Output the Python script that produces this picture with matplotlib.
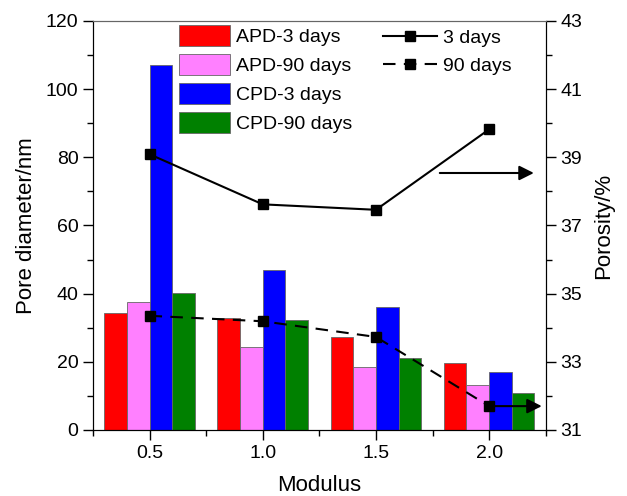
import numpy as np
import matplotlib
matplotlib.use("Agg")
import matplotlib.pyplot as plt
from matplotlib.ticker import MultipleLocator, FixedLocator

plt.rcParams['font.family'] = ['Liberation Sans', 'DejaVu Sans']

# datos
modulus = [0.5, 1.0, 1.5, 2.0]
apd_3 = [34.2, 33.0, 27.3, 19.6]
apd_90 = [37.6, 24.3, 18.4, 13.2]
cpd_3 = [107.0, 46.9, 36.2, 16.9]
cpd_90 = [40.1, 32.4, 21.0, 10.9]
por_3 = [39.09, 37.62, 37.46, 39.82]
por_90 = [34.35, 34.19, 33.73, 31.70]

fig = plt.figure(figsize=(6.27, 4.96), dpi=100)
ax = fig.add_axes([0.1483, 0.1331, 0.722, 0.8246])
ax2 = ax.twinx()

x = np.array(modulus)
w = 0.1
series = [(apd_3, '#ff0000', 'APD-3 days'), (apd_90, '#ff80ff', 'APD-90 days'),
          (cpd_3, '#0000ff', 'CPD-3 days'), (cpd_90, '#008000', 'CPD-90 days')]
barras = []
for i, (vals, col, lab) in enumerate(series):
    b = ax.bar(x + (i - 1.5) * w, vals, w, color=col, edgecolor='#666666',
               linewidth=0.6, label=lab)
    barras.append(b)

l1, = ax2.plot(x, por_3, '-s', color='black', lw=1.5, ms=6.5, label='3 days')
l2, = ax2.plot(x, por_90, '--s', color='black', lw=1.5, ms=6.5, dashes=(6, 4), label='90 days')

# flechas
ax2.annotate('', xy=(2.21, 38.54), xytext=(1.77, 38.54),
             arrowprops=dict(arrowstyle='-|>', mutation_scale=22, color='black', lw=1.5))
ax2.annotate('', xy=(2.245, 31.7), xytext=(2.0, 31.7),
             arrowprops=dict(arrowstyle='-|>', mutation_scale=22, color='black', lw=1.5))

ax.set_xlim(0.25, 2.25)
ax.set_ylim(0, 120)
ax2.set_ylim(31, 43)
ax.set_xticks(modulus)
ax.set_xticklabels(['0.5', '1.0', '1.5', '2.0'])
ax.xaxis.set_minor_locator(MultipleLocator(0.25))
ax.yaxis.set_major_locator(MultipleLocator(20))
ax.yaxis.set_minor_locator(MultipleLocator(10))
ax2.yaxis.set_major_locator(FixedLocator(range(31, 44, 2)))
ax2.yaxis.set_minor_locator(FixedLocator(range(32, 43, 2)))

for a in (ax, ax2):
    a.tick_params(which='major', direction='out', length=7, width=1, labelsize=14)
    a.tick_params(which='minor', direction='out', length=4, width=1)
    a.spines['top'].set_color('#666666')
ax.tick_params(axis='x', which='both', top=False)

ax.set_xlabel('Modulus', fontsize=16, labelpad=10)
ax.set_ylabel('Pore diameter/nm', fontsize=16, labelpad=6)
ax2.set_ylabel('Porosity/%', fontsize=16, labelpad=8)

ax.legend(handles=barras, loc='upper left', bbox_to_anchor=(0.19, 0.99),
          frameon=False, fontsize=14, handlelength=2.6, handleheight=1.3,
          handletextpad=0.35, labelspacing=0.4, borderpad=0, borderaxespad=0)
ax2.legend(handles=[l1, l2], loc='upper left', bbox_to_anchor=(0.64, 0.98),
           frameon=False, fontsize=14, handlelength=2.8, handletextpad=0.3,
           labelspacing=0.55, borderpad=0, borderaxespad=0)

fig.savefig('out.png', dpi=100)
